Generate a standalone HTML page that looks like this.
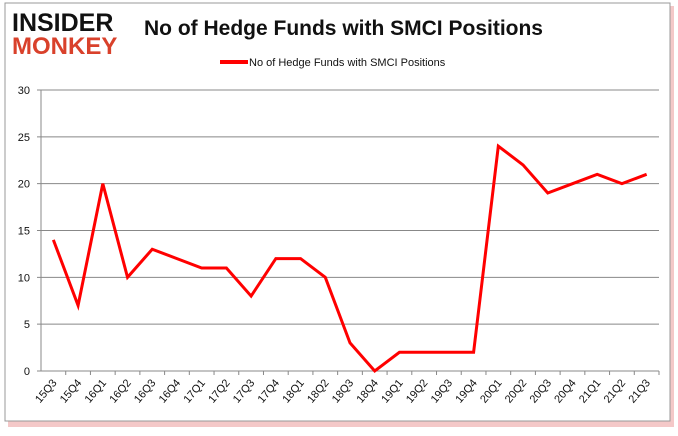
<!DOCTYPE html>
<html><head><meta charset="utf-8"><style>
body{margin:0;background:#fff;width:678px;height:431px;overflow:hidden;font-family:"Liberation Sans",sans-serif}
</style></head><body>
<svg width="678" height="431" xmlns="http://www.w3.org/2000/svg">
<rect x="8" y="6" width="666" height="421" fill="#f4c8c8"/>
<rect x="5" y="3" width="665" height="418" fill="#fff" stroke="#999"/>
<text x="12" y="31" font-size="25" font-weight="bold" fill="#111" font-family="Liberation Sans">INSIDER</text>
<text x="12" y="54" font-size="24" font-weight="bold" fill="#d9412b">MONKEY</text>
<text x="144" y="35" font-size="21" font-weight="bold" fill="#111">No of Hedge Funds with SMCI Positions</text>
<line x1="220" y1="62" x2="248" y2="62" stroke="#f00" stroke-width="4"/>
<text x="249" y="66" font-size="11" fill="#111">No of Hedge Funds with SMCI Positions</text>
<g id="g"></g>
</svg>
<script>
const categories=["15Q3","15Q4","16Q1","16Q2","16Q3","16Q4","17Q1","17Q2","17Q3","17Q4","18Q1","18Q2","18Q3","18Q4","19Q1","19Q2","19Q3","19Q4","20Q1","20Q2","20Q3","20Q4","21Q1","21Q2","21Q3"];
const values=[14,7,20,10,13,12,11,11,8,12,12,10,3,0,2,2,2,2,24,22,19,20,21,20,21];
const yTicks=[0,5,10,15,20,25,30];
const NS="http://www.w3.org/2000/svg",g=document.getElementById('g');
const L=41,R=659,T=90,B=371,bw=(R-L)/categories.length;
const x=i=>L+bw*(i+0.5), y=v=>B-(v/30)*(B-T);
function mk(t,a){const e=document.createElementNS(NS,t);for(const k in a)e.setAttribute(k,a[k]);g.appendChild(e);return e;}
yTicks.forEach(v=>{
 const ln=mk('line',{x1:L-4,x2:R,y1:y(v),y2:y(v),stroke:v?'#888':'#888','stroke-width':1});
 
 
 const t=mk('text',{x:L-11,y:y(v)+4,'font-size':11,'text-anchor':'end',fill:'#111'});t.textContent=v;
 
 
});
const ax=mk('line',{x1:L,x2:L,y1:T,y2:B,stroke:'#888'});


categories.forEach((c,i)=>{
 const tk=mk('line',{x1:L+bw*(i+1),x2:L+bw*(i+1),y1:B,y2:B+4,stroke:'#888'});
 
 
 const t=mk('text',{x:x(i)+4,y:B+12,'font-size':11,'text-anchor':'end',fill:'#111',transform:`rotate(-50 ${x(i)+4} ${B+12})`});t.textContent=c;
 
 
});
const p=mk('polyline',{points:values.map((v,i)=>x(i)+','+y(v)).join(' '),fill:'none',stroke:'#f00','stroke-width':3,'stroke-linejoin':'miter'});


</script>
</body></html>
